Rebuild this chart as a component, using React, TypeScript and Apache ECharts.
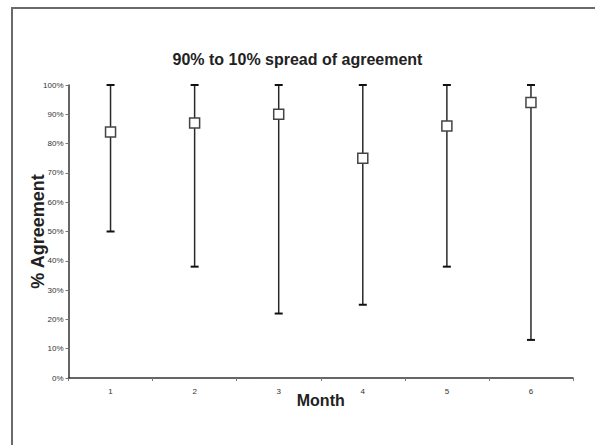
import React, { useEffect, useRef } from "react";
import * as echarts from "echarts";

// Month categories and the 90th / 10th percentile spread with mean agreement
const months = ["1", "2", "3", "4", "5", "6"];
const highs = [100, 100, 100, 100, 100, 100];
const lows = [50, 38, 22, 25, 38, 13];
const means = [84, 87, 90, 75, 86, 94];

export default function App() {
  const ref = useRef<HTMLDivElement>(null);

  useEffect(() => {
    if (!ref.current) return;
    const chart = echarts.init(ref.current, null, { renderer: "svg" });

    const spreadData = months.map((_, i) => [i, lows[i], highs[i]]);

    chart.setOption({
      animation: false,
      backgroundColor: "#ffffff",
      textStyle: { fontFamily: "Liberation Sans, Arial, sans-serif" },
      title: {
        text: "90% to 10% spread of agreement",
        left: "center",
        top: 46,
        textStyle: {
          fontSize: 16,
          fontWeight: "bold",
          color: "#222",
          fontFamily: "Liberation Sans, Arial, sans-serif",
        },
      },
      graphic: [
        {
          type: "line",
          shape: { x1: 12, y1: 8, x2: 595, y2: 8 },
          style: { stroke: "#6a6a6a", lineWidth: 2 },
        },
        {
          type: "line",
          shape: { x1: 12, y1: 7, x2: 12, y2: 445 },
          style: { stroke: "#6a6a6a", lineWidth: 2 },
        },
      ],
      grid: { left: 68.5, right: 22, top: 85, bottom: 67, containLabel: false },
      xAxis: {
        type: "category",
        data: months,
        boundaryGap: true,
        name: "Month",
        nameLocation: "middle",
        nameGap: 14,
        nameMoveOverlap: false,
        nameTextStyle: {
          fontSize: 16,
          fontWeight: "bold",
          color: "#222",
        },
        axisLine: { lineStyle: { color: "#333", width: 1.5 } },
        axisTick: { show: true, length: 3, lineStyle: { color: "#777" } },
        axisLabel: { fontSize: 8, color: "#333", margin: 9 },
        splitLine: { show: false },
      },
      yAxis: {
        type: "value",
        min: 0,
        max: 100,
        interval: 10,
        name: "% Agreement",
        nameLocation: "middle",
        nameGap: 22,
        nameMoveOverlap: false,
        nameTextStyle: {
          fontSize: 18,
          fontWeight: "bold",
          color: "#222",
        },
        axisLine: { show: true, lineStyle: { color: "#333", width: 1.5 } },
        axisTick: { show: true, length: 3, lineStyle: { color: "#777" } },
        axisLabel: { fontSize: 8, color: "#333", margin: 5, formatter: "{value}%" },
        splitLine: { show: false },
      },
      series: [
        {
          type: "custom",
          name: "spread",
          data: spreadData,
          encode: { x: 0, y: [1, 2] },
          z: 2,
          renderItem: (params: any, api: any) => {
            const x = api.value(0);
            const hi = api.coord([x, api.value(2)]);
            const lo = api.coord([x, api.value(1)]);
            const half = 4;
            return {
              type: "group",
              children: [
                {
                  type: "line",
                  shape: { x1: hi[0], y1: hi[1], x2: lo[0], y2: lo[1] },
                  style: { stroke: "#2a2a2a", lineWidth: 1.5 },
                },
                {
                  type: "line",
                  shape: { x1: hi[0] - half, y1: hi[1], x2: hi[0] + half, y2: hi[1] },
                  style: { stroke: "#111", lineWidth: 2 },
                },
                {
                  type: "line",
                  shape: { x1: lo[0] - half, y1: lo[1], x2: lo[0] + half, y2: lo[1] },
                  style: { stroke: "#111", lineWidth: 2 },
                },
              ],
            };
          },
        },
        {
          type: "scatter",
          name: "mean",
          data: means,
          symbol: "rect",
          symbolSize: 10,
          z: 5,
          itemStyle: { color: "#ffffff", borderColor: "#444", borderWidth: 1.5, opacity: 1 },
        },
      ],
    });

    return () => chart.dispose();
  }, []);

  return (
    <div
      ref={ref}
      style={{ position: "fixed", left: 0, top: 0, width: 595, height: 445 }}
    />
  );
}
